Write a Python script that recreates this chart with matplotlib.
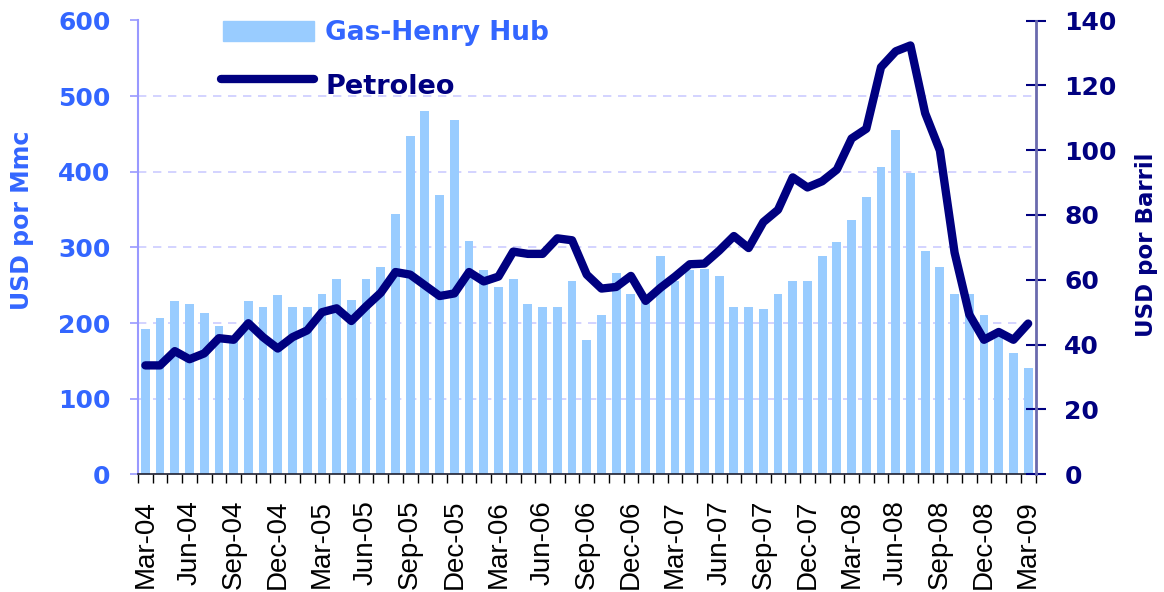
import matplotlib

matplotlib.use("Agg")

import matplotlib.pyplot as plt
import numpy as np
import pandas as pd
from matplotlib.lines import Line2D
from matplotlib.patches import Rectangle

# ----------------------------------------------------
# Data (monthly, Mar-04 .. Mar-09)
# ----------------------------------------------------

months = pd.date_range("2004-03-01", periods=61, freq="MS").strftime("%b-%y").tolist()

gas_henry_hub = [
    192, 206, 229, 225, 213, 196, 178, 229, 221, 237,
    221, 221, 239, 258, 231, 258, 274, 344, 447, 480,
    369, 469, 309, 270, 247, 258, 225, 221, 221, 255,
    177, 210, 266, 239, 228, 288, 255, 270, 272, 262,
    221, 221, 218, 239, 255, 255, 288, 307, 336, 366,
    406, 455, 399, 295, 274, 239, 238, 210, 185, 161,
    140,
]

petroleo = [
    33.6, 33.6, 38.0, 35.5, 37.3, 42.0, 41.5, 46.6, 42.3, 38.8,
    42.3, 44.4, 50.0, 51.2, 47.3, 51.8, 56.0, 62.4, 61.6, 58.3,
    55.0, 55.8, 62.4, 59.5, 61.0, 68.7, 68.0, 68.0, 72.8, 72.2,
    61.6, 57.3, 57.8, 61.2, 53.5, 57.5, 61.0, 64.8, 65.0, 69.0,
    73.5, 69.8, 77.8, 81.6, 91.6, 88.5, 90.4, 94.0, 103.6, 106.6,
    125.6, 130.5, 132.3, 111.4, 99.9, 68.4, 49.3, 41.5, 43.9, 41.5,
    46.5,
]

left_ticks = [0, 100, 200, 300, 400, 500, 600]
right_ticks = [0, 20, 40, 60, 80, 100, 120, 140]

GAS_COLOR = "#99ccff"
OIL_COLOR = "#000080"
BLUE_TEXT = "#3366ff"

W, H = 1164, 592


def main():

    fig = plt.figure(figsize=(W / 100, H / 100), dpi=100)
    fig.patch.set_facecolor("white")

    ax = fig.add_axes([138 / W, 1 - 474.3 / H, 897.5 / W, 453.8 / H])
    ax2 = ax.twinx()

    x = np.arange(len(months))

    # ----------------------------------------------------
    # Bars (gas)
    # ----------------------------------------------------

    ax.bar(x, gas_henry_hub, width=0.6, color=GAS_COLOR, zorder=2)

    ax.set_xlim(-0.5, len(months) - 0.5)
    ax.set_ylim(0, 600)
    ax.set_axisbelow(True)
    ax.yaxis.grid(True, color="#ccccff", linestyle=(0, (5, 4)), linewidth=1.2)

    ax.set_yticks(left_ticks)
    ax.tick_params(axis="y", direction="out", length=5.8, width=1.2,
                   color="#9999ff", pad=14, labelsize=18,
                   labelcolor=BLUE_TEXT)
    for lab in ax.get_yticklabels():
        lab.set_fontweight("bold")
        lab.set_fontfamily("DejaVu Sans")

    ax.set_xticks(x[::3])
    ax.set_xticklabels(months[::3], rotation=90, fontsize=20,
                       fontfamily="Liberation Sans")
    ax.set_xticks(np.arange(-0.5, len(months), 1), minor=True)
    ax.tick_params(axis="x", which="major", length=0, pad=18.5)
    ax.tick_params(axis="x", which="minor", direction="out", length=6.5,
                   width=1, color="black")

    ax.spines["top"].set_visible(False)
    ax.spines["right"].set_visible(False)
    ax.spines["left"].set_color("#9999ff")
    ax.spines["left"].set_linewidth(1.5)
    ax.spines["bottom"].set_color("#202030")
    ax.spines["bottom"].set_linewidth(1.2)

    # ----------------------------------------------------
    # Line (oil)
    # ----------------------------------------------------

    ax2.plot(x, petroleo, color=OIL_COLOR, linewidth=6,
             solid_joinstyle="round", solid_capstyle="round", zorder=3)
    ax2.set_ylim(0, 140)
    ax2.set_yticks(right_ticks)
    ax2.tick_params(axis="y", direction="inout", length=14.4, width=1.5,
                    color=OIL_COLOR, pad=13.5, labelsize=18,
                    labelcolor=OIL_COLOR)
    for lab in ax2.get_yticklabels():
        lab.set_fontweight("bold")
        lab.set_fontfamily("DejaVu Sans")

    for side in ("top", "left", "bottom"):
        ax2.spines[side].set_visible(False)
    ax2.spines["right"].set_color("#6a6aae")
    ax2.spines["right"].set_linewidth(2)

    # ----------------------------------------------------
    # Axis titles
    # ----------------------------------------------------

    fig.text(22 / W, 1 - 220 / H, "USD por Mmc", rotation=90,
             ha="center", va="center", fontsize=17, fontweight="bold",
             color=BLUE_TEXT, family="DejaVu Sans")
    fig.text(1147 / W, 1 - 245 / H, "USD por Barril", rotation=90,
             ha="center", va="center", fontsize=16.5, fontweight="bold",
             color=OIL_COLOR, family="DejaVu Sans")

    # ----------------------------------------------------
    # Legend (drawn by hand, like the original)
    # ----------------------------------------------------

    fig.add_artist(Rectangle((223 / W, 1 - 41 / H), 91 / W, 20 / H,
                             transform=fig.transFigure, color=GAS_COLOR))
    fig.add_artist(Line2D([221 / W, 314 / W], [1 - 79 / H, 1 - 79 / H],
                          transform=fig.transFigure, color=OIL_COLOR,
                          linewidth=6, solid_capstyle="round"))
    fig.text(325 / W, 1 - 33 / H, "Gas-Henry Hub", ha="left", va="center",
             fontsize=19, fontweight="bold", color=BLUE_TEXT,
             family="DejaVu Sans")
    fig.text(325 / W, 1 - 87 / H, "Petroleo", ha="left", va="center",
             fontsize=19.5, fontweight="bold", color=OIL_COLOR,
             family="DejaVu Sans")

    fig.savefig("out.png", dpi=100, facecolor="white")
    plt.close(fig)


if __name__ == "__main__":
    main()
